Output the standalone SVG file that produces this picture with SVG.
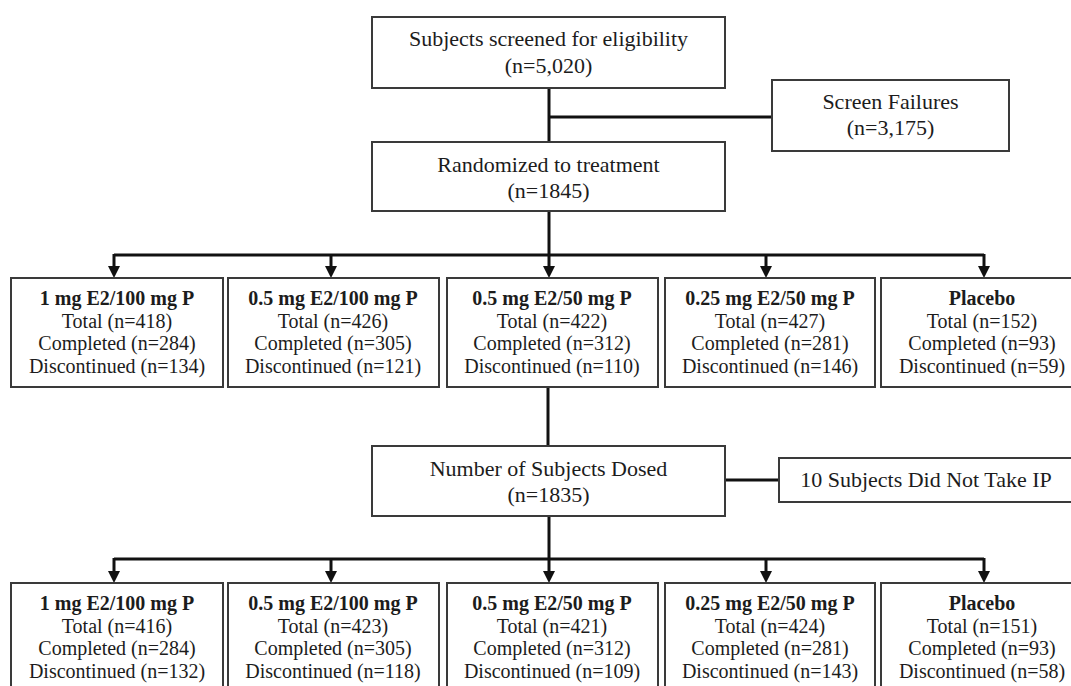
<svg xmlns="http://www.w3.org/2000/svg" width="1071" height="686" viewBox="0 0 1071 686">
<style>
.box{fill:#fff;stroke:#3a3a3a;stroke-width:2}
.t{font-family:"Liberation Serif","Times New Roman",serif;fill:#1c1c1c;text-anchor:middle}
.big{font-size:22px}
.sm{font-size:20px}
.b{font-weight:bold}
.ln{fill:none;stroke:#111;stroke-width:3}
</style>
<defs>
<marker id="ah" viewBox="0 0 12 12" refX="0" refY="6" markerWidth="12" markerHeight="12" markerUnits="userSpaceOnUse" orient="auto">
<path d="M0,0 L12,6 L0,12 z" fill="#111"/>
</marker>
</defs>
<g id="connectors">
<path class="ln" d="M549,88 V142"/>
<path class="ln" d="M549,117 H772"/>
<path class="ln" d="M549,211 V255"/>
<path class="ln" d="M114,255 H984"/>
<path class="ln" d="M114,254 V266" marker-end="url(#ah)"/>
<path class="ln" d="M331,254 V266" marker-end="url(#ah)"/>
<path class="ln" d="M549,254 V266" marker-end="url(#ah)"/>
<path class="ln" d="M766,254 V266" marker-end="url(#ah)"/>
<path class="ln" d="M984,254 V266" marker-end="url(#ah)"/>
<path class="ln" d="M548,387 V446"/>
<path class="ln" d="M725,480 H779"/>
<path class="ln" d="M549,516 V559"/>
<path class="ln" d="M114,559 H984"/>
<path class="ln" d="M114,558 V571" marker-end="url(#ah)"/>
<path class="ln" d="M331,558 V571" marker-end="url(#ah)"/>
<path class="ln" d="M549,558 V571" marker-end="url(#ah)"/>
<path class="ln" d="M766,558 V571" marker-end="url(#ah)"/>
<path class="ln" d="M984,558 V571" marker-end="url(#ah)"/>
</g>
<g id="screened">
<rect class="box" x="372" y="17" width="353" height="71"/>
<text class="t big" x="548.5" y="46">Subjects screened for eligibility</text>
<text class="t big" x="548.5" y="73">(n=5,020)</text>
</g>
<g id="screen-failures">
<rect class="box" x="772" y="80" width="237" height="71"/>
<text class="t big" x="890.5" y="109">Screen Failures</text>
<text class="t big" x="890.5" y="135">(n=3,175)</text>
</g>
<g id="randomized">
<rect class="box" x="372" y="142" width="353" height="69"/>
<text class="t big" x="548.5" y="172">Randomized to treatment</text>
<text class="t big" x="548.5" y="198">(n=1845)</text>
</g>
<g id="r1-a">
<rect class="box" x="11" y="278" width="212" height="109"/>
<text class="t sm b" x="117" y="305">1 mg E2/100 mg P</text>
<text class="t sm" x="117" y="327.5">Total (n=418)</text>
<text class="t sm" x="117" y="350">Completed (n=284)</text>
<text class="t sm" x="117" y="372.5">Discontinued (n=134)</text>
</g>
<g id="r1-b">
<rect class="box" x="228" y="278" width="211" height="109"/>
<text class="t sm b" x="333" y="305">0.5 mg E2/100 mg P</text>
<text class="t sm" x="333" y="327.5">Total (n=426)</text>
<text class="t sm" x="333" y="350">Completed (n=305)</text>
<text class="t sm" x="333" y="372.5">Discontinued (n=121)</text>
</g>
<g id="r1-c">
<rect class="box" x="447" y="278" width="211" height="109"/>
<text class="t sm b" x="552" y="305">0.5 mg E2/50 mg P</text>
<text class="t sm" x="552" y="327.5">Total (n=422)</text>
<text class="t sm" x="552" y="350">Completed (n=312)</text>
<text class="t sm" x="552" y="372.5">Discontinued (n=110)</text>
</g>
<g id="r1-d">
<rect class="box" x="665" y="278" width="210" height="109"/>
<text class="t sm b" x="770" y="305">0.25 mg E2/50 mg P</text>
<text class="t sm" x="770" y="327.5">Total (n=427)</text>
<text class="t sm" x="770" y="350">Completed (n=281)</text>
<text class="t sm" x="770" y="372.5">Discontinued (n=146)</text>
</g>
<g id="r1-e">
<rect class="box" x="881" y="278" width="202" height="109"/>
<text class="t sm b" x="982" y="305">Placebo</text>
<text class="t sm" x="982" y="327.5">Total (n=152)</text>
<text class="t sm" x="982" y="350">Completed (n=93)</text>
<text class="t sm" x="982" y="372.5">Discontinued (n=59)</text>
</g>
<g id="dosed">
<rect class="box" x="372" y="446" width="353" height="70"/>
<text class="t big" x="548.5" y="476">Number of Subjects Dosed</text>
<text class="t big" x="548.5" y="502">(n=1835)</text>
</g>
<g id="not-taken">
<rect class="box" x="779" y="458" width="294" height="44"/>
<text class="t big" x="926" y="487">10 Subjects Did Not Take IP</text>
</g>
<g id="r2-a">
<rect class="box" x="11" y="583" width="212" height="110"/>
<text class="t sm b" x="117" y="610">1 mg E2/100 mg P</text>
<text class="t sm" x="117" y="632.5">Total (n=416)</text>
<text class="t sm" x="117" y="655">Completed (n=284)</text>
<text class="t sm" x="117" y="677.5">Discontinued (n=132)</text>
</g>
<g id="r2-b">
<rect class="box" x="228" y="583" width="211" height="110"/>
<text class="t sm b" x="333" y="610">0.5 mg E2/100 mg P</text>
<text class="t sm" x="333" y="632.5">Total (n=423)</text>
<text class="t sm" x="333" y="655">Completed (n=305)</text>
<text class="t sm" x="333" y="677.5">Discontinued (n=118)</text>
</g>
<g id="r2-c">
<rect class="box" x="447" y="583" width="211" height="110"/>
<text class="t sm b" x="552" y="610">0.5 mg E2/50 mg P</text>
<text class="t sm" x="552" y="632.5">Total (n=421)</text>
<text class="t sm" x="552" y="655">Completed (n=312)</text>
<text class="t sm" x="552" y="677.5">Discontinued (n=109)</text>
</g>
<g id="r2-d">
<rect class="box" x="665" y="583" width="210" height="110"/>
<text class="t sm b" x="770" y="610">0.25 mg E2/50 mg P</text>
<text class="t sm" x="770" y="632.5">Total (n=424)</text>
<text class="t sm" x="770" y="655">Completed (n=281)</text>
<text class="t sm" x="770" y="677.5">Discontinued (n=143)</text>
</g>
<g id="r2-e">
<rect class="box" x="881" y="583" width="202" height="110"/>
<text class="t sm b" x="982" y="610">Placebo</text>
<text class="t sm" x="982" y="632.5">Total (n=151)</text>
<text class="t sm" x="982" y="655">Completed (n=93)</text>
<text class="t sm" x="982" y="677.5">Discontinued (n=58)</text>
</g>
</svg>
